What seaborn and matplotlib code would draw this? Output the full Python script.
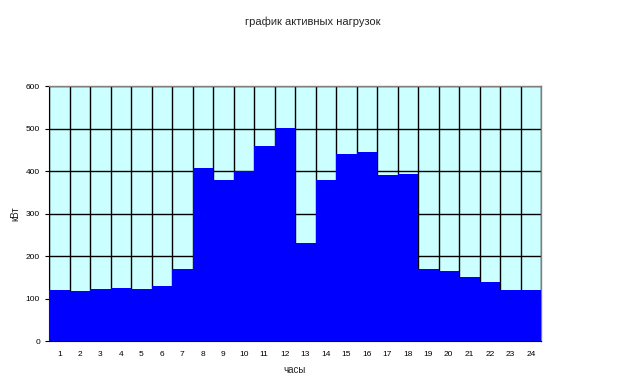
import numpy as np
import pandas as pd
import matplotlib
matplotlib.use("Agg")
import matplotlib.pyplot as plt
import seaborn as sns

hours = [str(h) for h in range(1, 25)]
load_kw = [120, 118, 122, 125, 122, 129, 169, 407, 379, 400, 459, 501,
           231, 379, 440, 445, 391, 393, 169, 165, 151, 139, 120, 120]

df = pd.DataFrame({"часы": hours, "кВт": load_kw})

sns.set_theme(style="white")
plt.rcParams["font.family"] = ["Liberation Sans", "DejaVu Sans"]

fig = plt.figure(figsize=(6.23, 3.88), dpi=100)
ax = fig.add_axes([0.0787, 0.121, 0.7897, 0.657])
ax.set_facecolor("#CCFFFF")

sns.barplot(data=df, x="часы", y="кВт", color="#0000FF", width=1.0,
            saturation=1, linewidth=0, ax=ax, zorder=3)

ax.set_xlim(-0.5, len(hours) - 0.5)
ax.set_ylim(0, 600)
ax.set_yticks(range(0, 601, 100))

# category boundaries as minor ticks and vertical grid
ax.set_xticks(np.arange(-0.5, len(hours), 1), minor=True)
ax.tick_params(axis="x", which="major", length=0, labelsize=6, pad=7, colors="black")
ax.tick_params(axis="x", which="minor", length=3, width=0.8, color="black", direction="out")
ax.tick_params(axis="y", length=3, width=0.8, labelsize=6, colors="black", direction="out", left=True)
ax.grid(axis="y", which="major", color="black", linewidth=1, zorder=1)
ax.grid(axis="x", which="minor", color="black", linewidth=1, zorder=1)
ax.grid(axis="x", which="major", visible=False)
ax.set_axisbelow(True)

for side in ["top", "right"]:
    ax.spines[side].set_color("#808080")
    ax.spines[side].set_linewidth(1)
for side in ["left", "bottom"]:
    ax.spines[side].set_color("black")
    ax.spines[side].set_linewidth(0.8)

ax.set_xlabel("часы", fontsize=7, labelpad=5)
ax.set_ylabel("кВт", fontsize=7, labelpad=4)
fig.text(0.502, 0.945, "график активных нагрузок", ha="center", va="center", fontsize=8)

plt.savefig("out.png", dpi=100)
plt.close()
